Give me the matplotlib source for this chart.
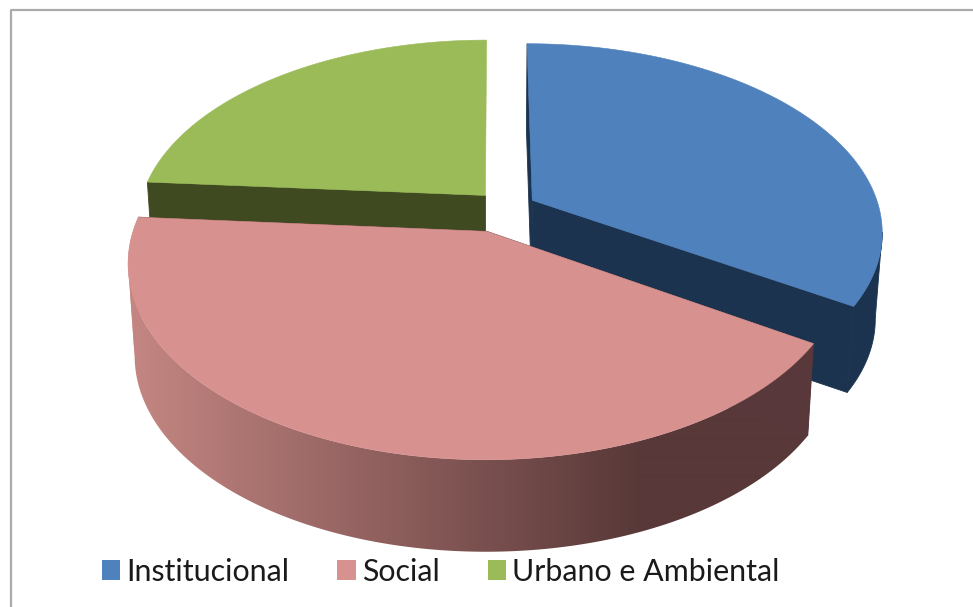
import numpy as np
import matplotlib
matplotlib.use('Agg')
import matplotlib.pyplot as plt
from matplotlib.patches import Patch, Polygon

# data
labels = ['Institucional', 'Social', 'Urbano e Ambiental']
values = [34.0, 42.2, 23.8]

# styles
top_colors = ['#4F81BD', '#D79290', '#9BBB59']
side_colors = ['#1C334F', '#58383A', '#404A20']
light_side = np.array([196, 134, 130]) / 255
dark_side = np.array([88, 56, 56]) / 255

# fake 3d pie, world units are pie radii
cx, cy = 494, 215
a, b, k = 349, 186, 0.16
explode = [(0.111, 0.08), (-0.02, -0.087), (-0.025, 0.107)]
depth = [86, 92, 92]
bottom_shrink = 0.982
cut_faces = [[0, -1], [0, -1], [0]]


def project(wx, wy):
    # perspective, far side of the pie gets smaller
    s = 1 + k * wy
    return cx + a * wx / s, cy - b * wy / s


def rim(t0, t1, off):
    th = np.radians(np.linspace(t0, t1, 240))
    return project(np.sin(th) + off[0], np.cos(th) + off[1])


def lower(x, y, h):
    return cx + (x - cx) * bottom_shrink, y + h


def draw_face(ax, x, y, color):
    ax.fill(x, y, facecolor=color, edgecolor=color, linewidth=0.6)


fig = plt.figure(figsize=(9.73, 6.07), dpi=100)
ax = fig.add_axes([0, 0, 1, 1])

# start angles, clockwise from the top
edges = np.cumsum([0] + values) / sum(values) * 360

# horizontal shading for the pink wall
f = np.clip((np.arange(973) - 133) / (640 - 133), 0, 1)[None, :, None]
shade = light_side + (dark_side - light_side) * f

# back to front: green, blue, pink
for i in [2, 0, 1]:
    t0, t1 = edges[i], edges[i + 1]
    off = explode[i]
    h = depth[i]
    ax_, ay_ = project(*off)
    x, y = rim(t0, t1, off)
    xb, yb = lower(x, y, h)
    axb, ayb = lower(ax_, ay_, h)

    # cut faces
    for j in cut_faces[i]:
        draw_face(ax, [ax_, x[j], xb[j], axb], [ay_, y[j], yb[j], ayb], side_colors[i])

    # outer wall, split where the rim turns back or the polygon folds on itself
    cuts = sorted({0, int(np.argmin(x)), int(np.argmax(x)), len(x) - 1})
    for n0, n1 in zip(cuts[:-1], cuts[1:]):
        xs, ys = x[n0:n1 + 1], y[n0:n1 + 1]
        xl, yl = xb[n0:n1 + 1], yb[n0:n1 + 1]
        # far side of the pie has no visible wall
        if ys.mean() < cy:
            continue
        wall = np.c_[np.r_[xs, xl[::-1]], np.r_[ys, yl[::-1]]]
        if i == 1:
            im = ax.imshow(shade, extent=(0, 973, 607, 0), aspect='auto', interpolation='bilinear')
            im.set_clip_path(Polygon(wall, transform=ax.transData))
        else:
            draw_face(ax, wall[:, 0], wall[:, 1], side_colors[i])

    # top
    ax.fill(np.r_[ax_, x], np.r_[ay_, y], facecolor=top_colors[i], edgecolor=top_colors[i], linewidth=0.4)

# chart frame, only left and top are inside the picture
ax.plot([11, 11, 973], [607, 9.5, 9.5], color='#ABABAB', linewidth=1.6)

ax.set_xlim(0, 973)
ax.set_ylim(607, 0)
ax.axis('off')

handles = [Patch(facecolor=c, edgecolor='none') for c in top_colors]
ax.legend(handles, labels, ncol=3, loc='lower left', bbox_to_anchor=(102, 586),
          bbox_transform=ax.transData, frameon=False, borderpad=0, borderaxespad=0,
          prop={'family': 'Lato', 'size': 21.9}, labelcolor='#1a1a1a',
          handlelength=0.6, handleheight=0.62, handletextpad=0.2, columnspacing=1.58)

fig.savefig('out.png', dpi=100)
